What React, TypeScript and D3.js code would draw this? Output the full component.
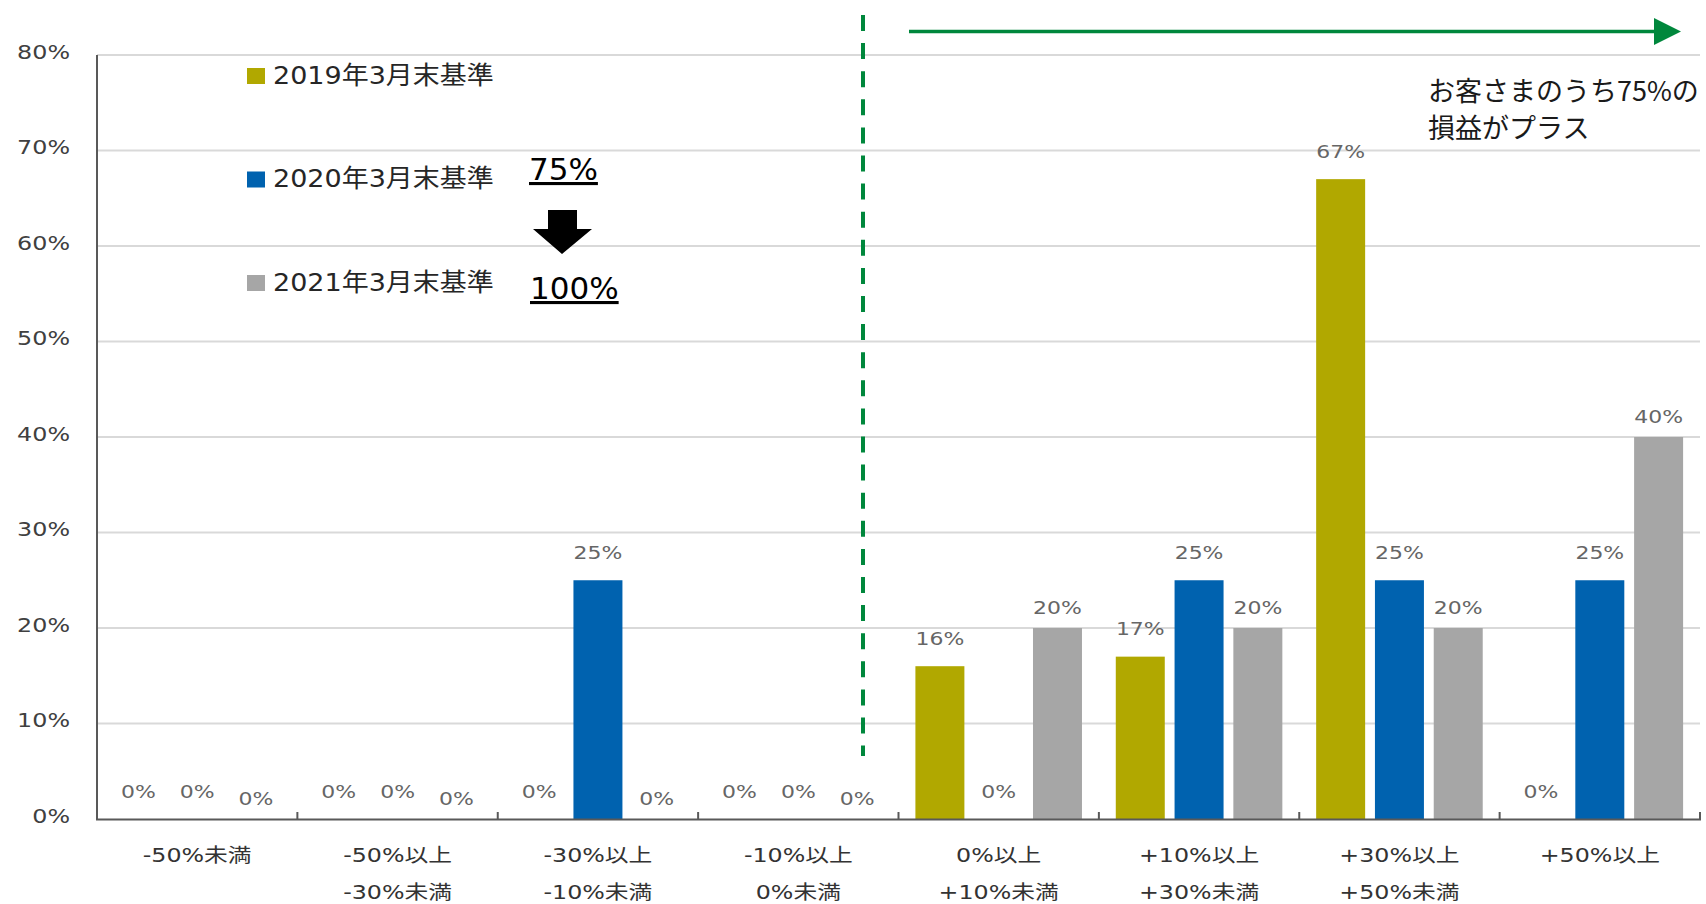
import React from "react";
import * as d3 from "d3";

const catLine1 = ["-50%未満", "-50%以上", "-30%以上", "-10%以上", "0%以上", "+10%以上", "+30%以上", "+50%以上"];
const catLine2 = ["", "-30%未満", "-10%未満", "0%未満", "+10%未満", "+30%未満", "+50%未満", ""];
const seriesNames = ["2019年3月末基準", "2020年3月末基準", "2021年3月末基準"];
const s2019 = [0, 0, 0, 0, 16, 17, 67, 0];
const s2020 = [0, 0, 25, 0, 0, 25, 25, 25];
const s2021 = [0, 0, 0, 0, 20, 20, 20, 40];
const yTicks = [0, 10, 20, 30, 40, 50, 60, 70, 80];
const seriesColors = ["#B1A800", "#0062AF", "#A6A6A6"];
const labelOffsets = [27.5, 27.5, 20];

const W = 1706;
const H = 904;
const LATIN = "'DejaVu Sans', 'Noto Sans CJK JP', sans-serif";
const CJK = "'Noto Sans CJK JP', sans-serif";

export default function App() {
  const series = [s2019, s2020, s2021];
  const x0 = d3.scaleBand<number>().domain(d3.range(catLine1.length)).range([97, 1700]).padding(0);
  const x1 = d3
    .scaleBand<number>()
    .domain([0, 1, 2])
    .range([0, x0.bandwidth()])
    .paddingInner(0.1667)
    .paddingOuter(0.2875);
  const y = d3.scaleLinear().domain([0, 80]).range([819, 55]);
  const fmt = (v: number) => `${v}%`;
  const boundaries = d3.range(catLine1.length + 1).map((i) => 97 + i * x0.step());

  return (
    <svg width={W} height={H} style={{ position: "absolute", left: 0, top: 0, background: "#fff" }}>
      {/* gridlines */}
      {yTicks
        .filter((t) => t > 0)
        .map((t) => (
          <line key={"g" + t} x1={97} x2={1700} y1={y(t)} y2={y(t)} stroke="#D9D9D9" strokeWidth={2.2} />
        ))}
      {/* y tick labels */}
      {yTicks.map((t) => (
        <text
          key={"yl" + t}
          transform={`translate(70,${y(t) - 3}) scale(1.19,1)`}
          textAnchor="end"
          dominantBaseline="central"
          fontFamily={LATIN}
          fontSize={20}
          fill="#404040"
        >
          {fmt(t)}
        </text>
      ))}
      {/* bars */}
      {catLine1.map((c, ci) =>
        series.map((s, si) => {
          const v = s[ci];
          const bx = (x0(ci) as number) + (x1(si) as number);
          return v > 0 ? (
            <rect
              key={`b${ci}-${si}`}
              x={bx}
              y={y(v)}
              width={x1.bandwidth()}
              height={y(0) - y(v)}
              fill={seriesColors[si]}
            />
          ) : null;
        })
      )}
      {/* value labels */}
      {catLine1.map((c, ci) =>
        series.map((s, si) => {
          const v = s[ci];
          const cx = (x0(ci) as number) + (x1(si) as number) + x1.bandwidth() / 2;
          return (
            <text
              key={`v${ci}-${si}`}
              transform={`translate(${cx},${y(v) - labelOffsets[si]}) scale(1.22,1)`}
              textAnchor="middle"
              dominantBaseline="central"
              fontFamily={LATIN}
              fontSize={18}
              fill="#666666"
            >
              {fmt(v)}
            </text>
          );
        })
      )}
      {/* axes */}
      <line x1={97} x2={97} y1={55} y2={820} stroke="#595959" strokeWidth={2} />
      <line x1={96} x2={1701} y1={819.5} y2={819.5} stroke="#595959" strokeWidth={2} />
      {boundaries.slice(1).map((bx, i) => (
        <line key={"t" + i} x1={bx} x2={bx} y1={812} y2={819} stroke="#595959" strokeWidth={2} />
      ))}
      {/* category labels */}
      {catLine1.map((c, ci) => {
        const cx = (x0(ci) as number) + x0.bandwidth() / 2;
        return (
          <g key={"c" + ci}>
            <text
              transform={`translate(${cx},855) scale(1.25,1)`}
              textAnchor="middle"
              dominantBaseline="central"
              fontFamily={LATIN}
              fontSize={19}
              fill="#333333"
            >
              {c}
            </text>
            {catLine2[ci] && (
              <text
                transform={`translate(${cx},892) scale(1.25,1)`}
                textAnchor="middle"
                dominantBaseline="central"
                fontFamily={LATIN}
                fontSize={19}
                fill="#333333"
              >
                {catLine2[ci]}
              </text>
            )}
          </g>
        );
      })}
      {/* legend */}
      {seriesNames.map((n, i) => {
        const ly = 76 + i * 103.5;
        return (
          <g key={"lg" + i}>
            <rect x={247} y={ly - 8} width={18} height={16} fill={seriesColors[i]} />
            <text
              transform={`translate(273,${ly - 1}) scale(1.08,1)`}
              dominantBaseline="central"
              fontFamily={LATIN}
              fontSize={25}
              fill="#262626"
            >
              {n}
            </text>
          </g>
        );
      })}
      {/* 75% -> 100% annotation */}
      <text x={529} y={180} fontFamily={LATIN} fontSize={31} fill="#000" textDecoration="underline">
        75%
      </text>
      <text x={530} y={299} fontFamily={LATIN} fontSize={31} fill="#000" textDecoration="underline">
        100%
      </text>
      <polygon points="548,210 577,210 577,229 592,229 562,254 533,229 548,229" fill="#000" />
      {/* green dashed separator */}
      <line x1={863} x2={863} y1={15} y2={756} stroke="#00873C" strokeWidth={4} strokeDasharray="16 12.1" />
      {/* green arrow */}
      <line x1={909} x2={1656} y1={31.5} y2={31.5} stroke="#00873C" strokeWidth={3.5} />
      <polygon points="1654,18 1681,31.5 1654,45" fill="#00873C" />
      <text x={1428} y={89.5} dominantBaseline="central" fontFamily={CJK} fontSize={27} fill="#1a1a1a">
        お客さまのうち75%の
      </text>
      <text x={1428} y={126.5} dominantBaseline="central" fontFamily={CJK} fontSize={27} fill="#1a1a1a">
        損益がプラス
      </text>
    </svg>
  );
}
